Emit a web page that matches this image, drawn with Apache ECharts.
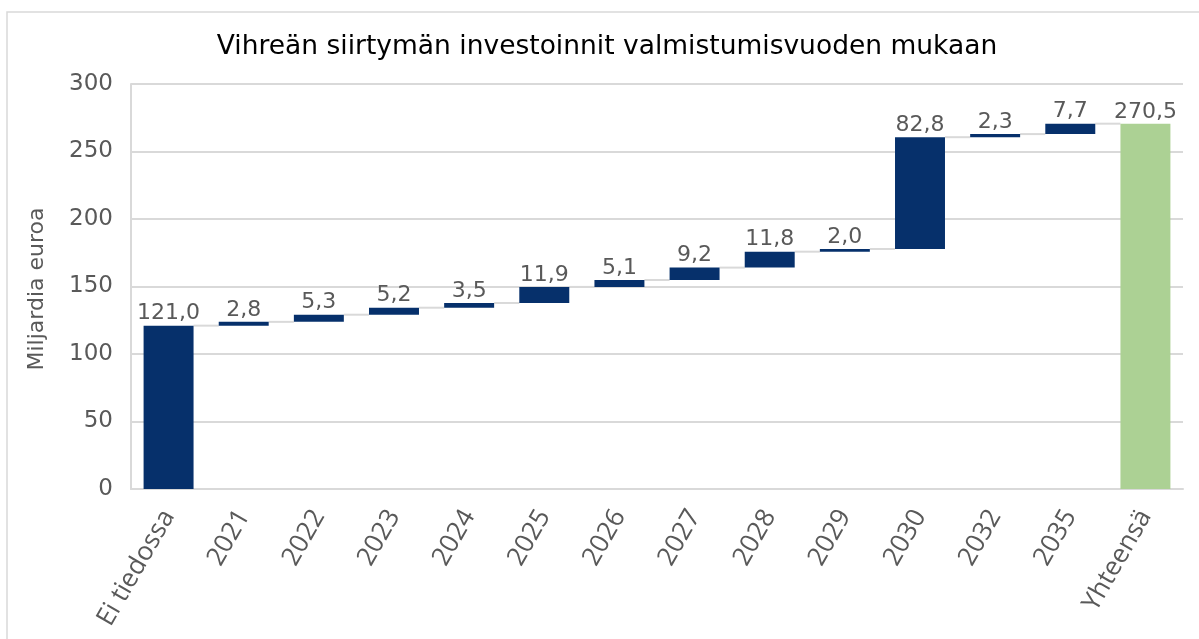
<!DOCTYPE html>
<html>
<head>
<meta charset="utf-8">
<script src="https://cdn.jsdelivr.net/npm/echarts@6/dist/echarts.min.js"></script>
<style>html,body{margin:0;padding:0;background:#fff}#c{width:1199px;height:639px}</style>
</head>
<body>
<div id="c"></div>
<script>
const categories = ['Ei tiedossa','2021','2022','2023','2024','2025','2026','2027','2028','2029','2030','2032','2035','Yhteensä'];
const changes = [121.0, 2.8, 5.3, 5.2, 3.5, 11.9, 5.1, 9.2, 11.8, 2.0, 82.8, 2.3, 7.7];
const total = 270.5;
const yTicks = [0, 50, 100, 150, 200, 250, 300];

const fmt = v => v.toFixed(1).replace('.', ',');

// Build base/visible stacks for waterfall
const base = [], vis = [], levels = [];
let run = 0;
changes.forEach((d, i) => {
  base.push(run);
  vis.push(d);
  run += d;
  levels.push(run);
});
base.push(0);
vis.push({ value: total, itemStyle: { color: '#acd194' } });
const barFrac = 0.665;

const chart = echarts.init(document.getElementById('c'));
chart.setOption({
  animation: false,
  backgroundColor: '#fff',
  title: {
    text: 'Vihreän siirtymän investoinnit valmistumisvuoden mukaan',
    left: 602, textAlign: 'center', top: 29,
    textStyle: { fontFamily: 'DejaVu Sans', fontSize: 26.5, fontWeight: 'normal', color: '#000' }
  },
  graphic: [
    { type: 'rect', shape: { x: 7, y: 12, width: 1300, height: 700 }, style: { fill: 'none', stroke: '#d9d9d9', lineWidth: 1.5 }, silent: true, z: -1 },
    { type: 'text', x: 37, y: 289, rotation: Math.PI / 2,
      style: { text: 'Miljardia euroa', fontFamily: 'DejaVu Sans', fontSize: 22, fill: '#595959', align: 'center', verticalAlign: 'middle' } }
  ],
  grid: { left: 131, right: 16, top: 84, bottom: 150 },
  xAxis: {
    type: 'category', data: categories,
    axisLine: { lineStyle: { color: '#d9d9d9', width: 2 } },
    axisTick: { show: false },
    axisLabel: { rotate: 60, interval: 0, margin: 23, fontFamily: 'Open Sans', fontSize: 26, color: '#595959' }
  },
  yAxis: {
    type: 'value', min: 0, max: 300, interval: 50,
    axisLine: { show: true, lineStyle: { color: '#d9d9d9', width: 2 } },
    axisTick: { show: false },
    splitLine: { lineStyle: { color: '#d9d9d9', width: 2 } },
    axisLabel: { margin: 18, fontFamily: 'DejaVu Sans', fontSize: 23, color: '#595959',
      formatter: v => yTicks.includes(v) ? String(v) : '' }
  },
  series: [
    { type: 'bar', stack: 'w', data: base, barWidth: (barFrac * 100) + '%',
      itemStyle: { color: 'transparent' }, silent: true },
    { type: 'bar', stack: 'w', data: vis, barWidth: (barFrac * 100) + '%',
      itemStyle: { color: '#06306b' },
      label: { show: true, position: 'top', distance: 1, fontFamily: 'DejaVu Sans', fontSize: 22, color: '#595959',
        formatter: p => fmt(typeof p.value === 'number' ? p.value : p.data.value) } },
    { type: 'custom', z: 1,
      data: levels.map((v, i) => [i, v]),
      renderItem: (params, api) => {
        const i = api.value(0), v = api.value(1);
        const p1 = api.coord([i, v]), p2 = api.coord([i + 1, v]);
        const hw = api.size([1, 0])[0] * barFrac / 2;
        return { type: 'line', shape: { x1: p1[0] + hw, y1: p1[1], x2: p2[0] - hw, y2: p2[1] },
          style: { stroke: '#d9d9d9', lineWidth: 2 } };
      } }
  ]
});
</script>
</body>
</html>
